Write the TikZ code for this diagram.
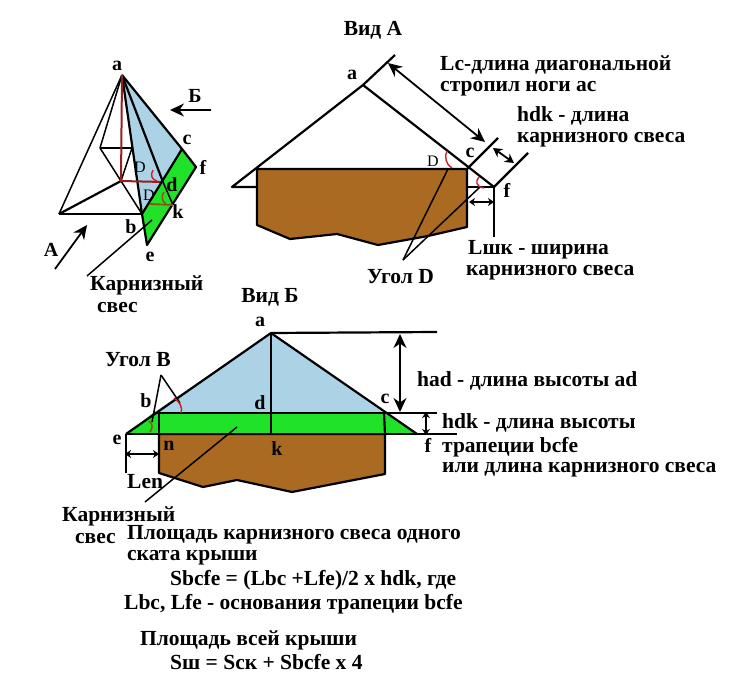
\documentclass[tikz,border=0pt]{standalone}
\usepackage{fontspec}
\setmainfont{Liberation Serif}
\usetikzlibrary{arrows.meta}
\definecolor{roofblue}{RGB}{172,210,230}
\definecolor{roofgreen}{RGB}{32,226,40}
\definecolor{wall}{RGB}{170,106,34}
\definecolor{arcred}{RGB}{200,30,50}
\definecolor{rafter}{RGB}{150,30,30}
\definecolor{arcbrown}{RGB}{150,80,20}
\tikzset{
  txt/.style={font=\fontsize{21.5}{24}\selectfont\bfseries,inner sep=0pt,anchor=west,text=black},
  ctxt/.style={font=\fontsize{20}{22}\selectfont\bfseries,inner sep=0pt,text=black},
  smalltxt/.style={font=\fontsize{16}{18}\selectfont,inner sep=0pt,text=black},
  thinl/.style={draw=black,line width=1.5pt},
  thickl/.style={draw=black,line width=2.2pt,line join=round},
  arr/.style={draw=black,line width=1.8pt,-{Stealth[length=14pt,width=13pt]}},
  darr/.style={draw=black,line width=1.8pt,{Stealth[length=14pt,width=13pt]}-{Stealth[length=14pt,width=13pt]}},
  sarr/.style={draw=black,line width=1.6pt,{Stealth[length=6pt,width=8pt]}-{Stealth[length=6pt,width=8pt]}},
  redarc/.style={draw=arcred,line width=1.4pt},
  brownarc/.style={draw=arcbrown,line width=1.5pt},
  redl/.style={draw=rafter,line width=2pt}
}
\begin{document}
\begin{tikzpicture}[x=1pt,y=-1pt]
\useasboundingbox[fill=white] (0,0) rectangle (750,682);
% ---------- Perspective ----------
\coordinate (Pa) at (122,75);
\coordinate (Pbl) at (100,148);
\coordinate (Pbr) at (132,148);
\coordinate (Pfl) at (59,214);
\coordinate (Pb) at (142,214);
\coordinate (Pm) at (121,181);
\coordinate (Pc) at (182,149);
\coordinate (Pf) at (196,167);
\coordinate (Pe) at (147,245);
\coordinate (Pd) at (163,182);
\coordinate (Pk) at (173,205);
\coordinate (Pq) at (150,204);
\fill[roofblue] (Pa) -- (Pc) -- (Pb) -- cycle;
\fill[roofgreen] (Pb) -- (Pc) -- (Pf) -- (Pe) -- cycle;
\draw[thinl] (Pa) -- (Pfl);
\draw[thinl] (Pa) -- (Pbl);
\draw[thickl] (Pa) -- (Pb);
\draw[thickl] (Pa) -- (Pd);
\draw[thickl] (Pa) -- (Pc);
\draw[thickl] (Pfl) -- (Pb);
\draw[thinl] (Pbl) -- (Pbr);
\draw[thinl] (Pbl) -- (Pm) -- (Pb);
\draw[thinl] (Pbr) -- (Pm);
\draw[thickl] (Pfl) -- (Pm);
\draw[redl] (Pa) -- (Pm) -- (Pd);
\draw[thickl] (Pb) -- (Pc) -- (Pf) -- (Pe) -- cycle;
\draw[thinl] (Pd) -- (Pk);
\draw[draw=arcbrown,line width=1.8pt] (Pq) -- (Pk);
\draw[redarc] (153,170) .. controls (150,175) and (152,180) .. (157,181);
\draw[brownarc] (164,192) .. controls (161,196) and (162,202) .. (166,204);
\node[ctxt] (La) at (117,66) {a};
\node[ctxt] (Lbb) at (195,96) {Б};
\node[ctxt] (Lc) at (187,140) {c};
\node[ctxt] (Lf) at (203,167) {f};
\node[smalltxt] (LD) at (140,167) {D};
\node[ctxt] (Ld) at (172,185) {d};
\node[smalltxt] (LDb) at (149,195) {D};
\node[ctxt] (Lk) at (178,212) {k};
\node[ctxt] (Lb) at (131,227) {b};
\node[ctxt] (Le) at (150,257) {e};
\node[ctxt] (LA) at (51,250) {A};
\coordinate (PArrA) at (55,269); \coordinate (PArrAe) at (87,225);
\coordinate (PArrB) at (211,110); \coordinate (PArrBe) at (170,110);
\draw[arr] (PArrA) -- (PArrAe);
\draw[arr] (PArrB) -- (PArrBe);
\node[txt] (Kar1) at (90,285) {Карнизный};
\node[txt] (Sv1) at (97,308) {свес};
\coordinate (PLead) at (87,276); \coordinate (PLeadE) at (152,220);
\draw[thinl] (PLead) -- (PLeadE);
% ---------- View A ----------
\node[ctxt,font=\fontsize{21.5}{24}\selectfont\bfseries] (VA) at (373,30) {Вид А};
\coordinate (Aa) at (363,85);
\coordinate (Atop) at (395,55);
\coordinate (Al) at (232,187);
\coordinate (Ar) at (494,187);
\coordinate (Wtl) at (257,169);
\coordinate (Wtr) at (467,169);
\coordinate (Ac) at (498,138);
\coordinate (Af) at (528,153);
\coordinate (Afd) at (494,237);
\fill[wall] (Wtl) -- (Wtr) -- (467,227) -- (428,236) -- (378,245) -- (337,234) -- (290,239) -- (257,225) -- cycle;
\draw[thickl] (Wtl) -- (Wtr) -- (467,227) -- (428,236) -- (378,245) -- (337,234) -- (290,239) -- (257,225) -- cycle;
\draw[thickl] (Atop) -- (Aa) -- (Al) -- (Wtl |- Al);
\draw[thickl] (Aa) -- (Ar) -- (Af);
\draw[thickl] (Wtr |- Ar) -- (Ar) -- (Afd);
\draw[thickl] (Wtr) -- (Ac);
\draw[darr] (388,63) -- (485,142);
\draw[darr,{Stealth[length=9pt,width=10pt]}-{Stealth[length=9pt,width=10pt]}] (493,148) -- (514,163);
\draw[sarr] (469,202) -- (494,202);
\coordinate (Ang) at (403,260);
\draw[thinl] (Ang) -- (448,169);
\draw[thinl] (Ang) -- (480,187);
\draw[redarc] (447,151) .. controls (444,156) and (446,165) .. (452,168);
\draw[redarc] (479,177) .. controls (475,181) and (476,187) .. (484,188);
\node[ctxt] (Aal) at (352,75) {a};
\node[ctxt] (Acl) at (470,153) {c};
\node[smalltxt] (ADl) at (433,161) {D};
\node[ctxt] (Afl) at (507,190) {f};
\node[txt] (T1) at (440,65) {Lc-длина диагональной};
\node[txt] (T2) at (440,89) {стропил ноги ас};
\node[txt] (T3) at (517,116) {hdk - длина};
\node[txt] (T4) at (517,140) {карнизного свеса};
\node[txt] (T5) at (468,250) {Lшк - ширина};
\node[txt] (T6) at (466,273) {карнизного свеса};
\node[txt] (T7) at (367,277) {Угол D};
% ---------- View B ----------
\node[ctxt,font=\fontsize{21.5}{24}\selectfont\bfseries] (VB) at (270,297) {Вид Б};
\coordinate (Ba) at (271,333);
\coordinate (Btr) at (437,332);
\coordinate (Bb) at (153,413);
\coordinate (Bc) at (384,413);
\coordinate (Be) at (126,434);
\coordinate (Bf) at (417,434);
\coordinate (Bfr) at (457,434);
\coordinate (Bcr) at (437,413);
\coordinate (Bk) at (271,434);
\coordinate (Bn) at (159,434);
\coordinate (Br) at (385,434);
\fill[wall] (Bn) -- (Br) -- (385,474) -- (292,492) -- (237,480) -- (203,487) -- (159,473) -- cycle;
\draw[thickl] (Bn) -- (Br) -- (385,474) -- (292,492) -- (237,480) -- (203,487) -- (159,473) -- cycle;
\fill[roofblue] (Ba) -- (Bc) -- (Bb) -- cycle;
\fill[roofgreen] (Bb) -- (Bc) -- (Bf) -- (Be) -- cycle;
\draw[thickl] (Be) -- (Ba) -- (Bf);
\draw[thickl] (Ba) -- (Btr);
\draw[thickl] (Ba) -- (Bk);
\draw[thickl] (Bb) -- (Bcr);
\draw[thickl] (Be) -- (Bfr);
\draw[thickl] (Bn |- Bb) -- (Bn);
\draw[thickl] (Bc) -- (Br);
\draw[thickl] (Be) -- (126,473);
\draw[darr] (400,334) -- (400,412);
\draw[sarr] (426,412) -- (426,435);
\draw[sarr] (125,454) -- (159,454);
\coordinate (BAng) at (161,375);
\draw[thinl] (BAng) -- (152,422);
\draw[thinl] (BAng) -- (180,403);
\draw[redarc] (174,398) .. controls (180,402) and (183,408) .. (181,413);
\draw[brownarc] (149,421) .. controls (153,424) and (153,428) .. (150,432);
\coordinate (BLead) at (145,502); \coordinate (BLeadE) at (237,427);
\draw[thinl] (BLead) -- (BLeadE);
\node[ctxt] (Bal) at (260,322) {a};
\node[txt] (T8) at (105,360) {Угол В};
\node[ctxt] (Bbl) at (146,401) {b};
\node[ctxt] (Bdl) at (260,403) {d};
\node[ctxt] (Bcl) at (385,399) {c};
\node[ctxt] (Bel) at (117,440) {e};
\node[ctxt] (Bnl) at (169,446) {n};
\node[ctxt] (Bkl) at (277,449) {k};
\node[ctxt] (Bfl) at (428,445) {f};
\node[txt] (T9) at (127,482) {Len};
\node[txt] (T10) at (417,381) {had - длина высоты ad};
\node[txt] (T11) at (442,423) {hdk - длина высоты};
\node[txt] (T12) at (442,447) {трапеции bcfe};
\node[txt] (T13) at (442,470) {или длина карнизного свеса};
\node[txt] (T14) at (62,516) {Карнизный};
\node[txt] (T15) at (75,539) {свес};
% ---------- Formulae ----------
\node[txt] (F1) at (127,535) {Площадь карнизного свеса одного};
\node[txt] (F2) at (127,558) {ската крыши};
\node[txt] (F3) at (170,580) {Sbcfe = (Lbc +Lfe)/2 x hdk, где};
\node[txt] (F4) at (124,604) {Lbc, Lfe - основания трапеции bcfe};
\node[txt] (F5) at (140,640) {Площадь всей крыши};
\node[txt] (F6) at (170,662) {Sш = Sск + Sbcfe x 4};
\end{tikzpicture}
\end{document}
